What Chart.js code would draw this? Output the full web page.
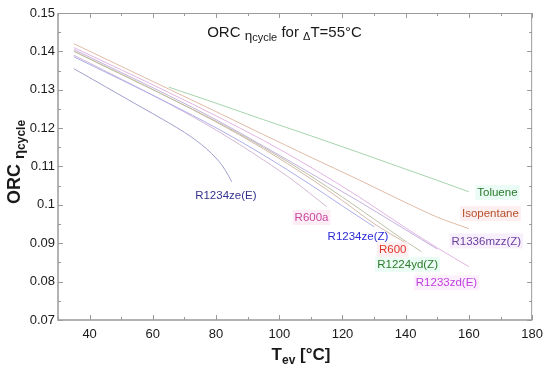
<!DOCTYPE html>
<html>
<head>
<meta charset="utf-8">
<script src="https://cdn.jsdelivr.net/npm/chart.js@4/dist/chart.umd.min.js"></script>
<style>
  html, body { margin: 0; padding: 0; background: #fff; }
  #wrap { width: 550px; height: 374px; }
</style>
</head>
<body>
<div id="wrap"><canvas id="c" width="550" height="374"></canvas></div>
<script>
// axis ticks
const xTicks = [40, 60, 80, 100, 120, 140, 160, 180];
const yTicks = [0.07, 0.08, 0.09, 0.1, 0.11, 0.12, 0.13, 0.14, 0.15];

// evaporation temperature [°C] and cycle efficiency per fluid
const tToluene = [65, 80, 95, 110, 125, 140, 150, 160];
const etaToluene = [0.1307, 0.1265, 0.1222, 0.1180, 0.1137, 0.1093, 0.1064, 0.1034];

const tIsopentane = [35, 50, 65, 80, 95, 110, 125, 140, 150, 160];
const etaIsopentane = [0.1420, 0.1361, 0.1302, 0.1243, 0.1183, 0.1124, 0.1066, 0.1006, 0.0968, 0.0938];

const tR1233zdE = [35, 50, 65, 80, 95, 110, 125, 140, 150, 160];
const etaR1233zdE = [0.1410, 0.1352, 0.1293, 0.1232, 0.1168, 0.1098, 0.1022, 0.0940, 0.0888, 0.0839];

const tR1336mzzZ = [35, 50, 65, 80, 95, 110, 125, 140, 145, 150];
const etaR1336mzzZ = [0.1405, 0.1345, 0.1285, 0.1222, 0.1153, 0.1082, 0.1010, 0.0935, 0.0910, 0.0885];

const tR1224ydZ = [35, 50, 65, 80, 95, 110, 120, 130, 140, 145];
const etaR1224ydZ = [0.1400, 0.1340, 0.1280, 0.1218, 0.1150, 0.1075, 0.1020, 0.0963, 0.0905, 0.0878];

const tR600 = [35, 50, 65, 80, 95, 110, 120, 130, 140];
const etaR600 = [0.1401, 0.1341, 0.1280, 0.1216, 0.1146, 0.1068, 0.1011, 0.0951, 0.0901];

const tR1234zeZ = [35, 50, 65, 80, 95, 110, 120, 130];
const etaR1234zeZ = [0.1386, 0.1326, 0.1265, 0.1201, 0.1130, 0.1052, 0.0997, 0.0943];

const tR600a = [35, 50, 65, 80, 95, 105, 115];
const etaR600a = [0.1390, 0.1328, 0.1264, 0.1195, 0.1117, 0.1060, 0.0995];

const tR1234zeE = [35, 45, 55, 65, 70, 74, 77, 80, 82, 84, 85];
const etaR1234zeE = [0.1355, 0.1308, 0.1261, 0.1214, 0.1189, 0.1166, 0.1146, 0.1122, 0.1102, 0.1075, 0.1060];

// label anchors (data units)
const labelNames = ['Toluene', 'Isopentane', 'R1336mzz(Z)', 'R1233zd(E)', 'R1224yd(Z)', 'R600', 'R1234ze(Z)', 'R600a', 'R1234ze(E)'];
const labelX = [169.0, 166.8, 165.5, 152.9, 140.6, 135.9, 124.9, 110.2, 83.1];
const labelY = [0.1032, 0.0977, 0.0906, 0.0797, 0.0845, 0.0883, 0.0919, 0.0967, 0.1026];
const labelColors = ['#2a7a2a', '#b4502a', '#6b3f9e', '#c03ee0', '#2d7a2d', '#e0352a', '#2a2ad6', '#c8489e', '#33338f'];
const labelBg = ['#eafcf5', '#fdeef0', '#f7effc', '#fcf0fc', '#eafcf3', '#fdf0f2', null, '#fdeef6', null];

const series = [
  ['Toluene', tToluene, etaToluene, '#a6d4ae'],
  ['Isopentane', tIsopentane, etaIsopentane, '#e0bba5'],
  ['R1233zd(E)', tR1233zdE, etaR1233zdE, '#e2b5e3'],
  ['R1336mzz(Z)', tR1336mzzZ, etaR1336mzzZ, '#c4b2e0'],
  ['R1224yd(Z)', tR1224ydZ, etaR1224ydZ, '#bcc1a5'],
  ['R600', tR600, etaR600, '#d4b8a8'],
  ['R1234ze(Z)', tR1234zeZ, etaR1234zeZ, '#aeaeec'],
  ['R600a', tR600a, etaR600a, '#d4b8d4'],
  ['R1234ze(E)', tR1234zeE, etaR1234zeE, '#a0a0d0']
];

const FONT = 'Arial, "Liberation Sans", sans-serif';

// text runs: [text, size, weight, dy]
function runsWidth(ctx, runs) {
  let w = 0;
  for (const r of runs) {
    ctx.font = `${r[2]} ${r[1]}px ${FONT}`;
    w += ctx.measureText(r[0]).width;
  }
  return w;
}
function drawRuns(ctx, runs, x, y) {
  for (const r of runs) {
    ctx.font = `${r[2]} ${r[1]}px ${FONT}`;
    ctx.fillText(r[0], x, y + r[3]);
    x += ctx.measureText(r[0]).width;
  }
}

const decor = {
  id: 'decor',
  afterDraw(chart) {
    const ctx = chart.ctx;
    const a = chart.chartArea;
    const xs = chart.scales.x, ys = chart.scales.y;
    ctx.save();

    // frame
    ctx.strokeStyle = '#9a9a9a';
    ctx.lineWidth = 1;
    ctx.beginPath();
    ctx.moveTo(a.left, a.top + 0.5); ctx.lineTo(a.right, a.top + 0.5);
    ctx.moveTo(a.right - 0.5, a.top); ctx.lineTo(a.right - 0.5, a.bottom);
    ctx.stroke();
    ctx.lineWidth = 1.5;
    ctx.beginPath();
    ctx.moveTo(a.left, a.top); ctx.lineTo(a.left, a.bottom);
    ctx.lineTo(a.right, a.bottom);
    ctx.stroke();

    // inward ticks
    ctx.lineWidth = 1;
    ctx.beginPath();
    for (let v = 30; v <= 180; v += 10) {
      const px = Math.round(xs.getPixelForValue(v)) + 0.5;
      const len = v % 20 === 0 ? 5 : 3;
      ctx.moveTo(px, a.bottom); ctx.lineTo(px, a.bottom - len);
      ctx.moveTo(px, a.top); ctx.lineTo(px, a.top + len);
    }
    for (let i = 0; i <= 16; i++) {
      const v = 0.07 + i * 0.005;
      const py = Math.round(ys.getPixelForValue(v)) + 0.5;
      const len = i % 2 === 0 ? 5 : 3;
      ctx.moveTo(a.left, py); ctx.lineTo(a.left + len, py);
      ctx.moveTo(a.right, py); ctx.lineTo(a.right - len, py);
    }
    ctx.stroke();

    ctx.fillStyle = '#1a1a1a';
    ctx.textBaseline = 'alphabetic';
    ctx.textAlign = 'left';

    // title inside plot
    const tRuns = [['ORC ', 15, 'normal', 0], ['\u03b7', 13.5, 'normal', 3], ['cycle', 11, 'normal', 4],
                   [' for ', 15, 'normal', 0], ['\u0394', 11, 'normal', 3], ['T=55\u00b0C', 15, 'normal', 0]];
    const tw = runsWidth(ctx, tRuns);
    drawRuns(ctx, tRuns, 284.5 - tw / 2, 37);

    // x axis title
    const xRuns = [['T', 17, 'bold', 0], ['ev', 12, 'bold', 4], [' [\u00b0C]', 17, 'bold', 0]];
    const xw = runsWidth(ctx, xRuns);
    drawRuns(ctx, xRuns, 301 - xw / 2, 360);

    // y axis title
    const yRuns = [['ORC ', 18, 'bold', 0], ['\u03b7', 15, 'bold', 4], ['cycle', 12, 'bold', 5]];
    const yw = runsWidth(ctx, yRuns);
    ctx.save();
    ctx.translate(20, 162);
    ctx.rotate(-Math.PI / 2);
    drawRuns(ctx, yRuns, -yw / 2, 0);
    ctx.restore();

    // fluid labels
    ctx.font = `11.5px ${FONT}`;
    ctx.textAlign = 'center';
    ctx.textBaseline = 'middle';
    labelNames.forEach((name, i) => {
      const px = xs.getPixelForValue(labelX[i]);
      const py = ys.getPixelForValue(labelY[i]);
      const w = ctx.measureText(name).width;
      if (labelBg[i]) {
        ctx.fillStyle = labelBg[i];
        ctx.fillRect(px - w / 2 - 2, py - 7.5, w + 4, 15);
      }
      ctx.fillStyle = labelColors[i];
      ctx.fillText(name, px, py + 0.5);
    });
    ctx.restore();
  }
};

new Chart(document.getElementById('c'), {
  type: 'line',
  data: {
    datasets: series.map(s => ({
      label: s[0],
      data: s[1].map((t, i) => ({ x: t, y: s[2][i] })),
      borderColor: s[3],
      borderWidth: 1,
      pointRadius: 0,
      fill: false,
      cubicInterpolationMode: 'monotone'
    }))
  },
  options: {
    responsive: false,
    animation: false,
    events: [],
    layout: { padding: { top: 13, right: 15.5, left: 0, bottom: 0 } },
    plugins: { legend: { display: false }, tooltip: { enabled: false }, title: { display: false } },
    scales: {
      x: {
        type: 'linear',
        min: 30, max: 180,
        afterBuildTicks: sc => { sc.ticks = xTicks.map(v => ({ value: v })); },
        afterFit: sc => { sc.height = 54; },
        grid: { display: false, drawTicks: false },
        border: { display: false },
        ticks: { color: '#1a1a1a', padding: 7, font: { family: FONT, size: 13 }, maxRotation: 0 }
      },
      y: {
        type: 'linear',
        min: 0.07, max: 0.15,
        afterBuildTicks: sc => { sc.ticks = yTicks.map(v => ({ value: v })); },
        afterFit: sc => { sc.width = 58; },
        grid: { display: false, drawTicks: false },
        border: { display: false },
        ticks: {
          color: '#1a1a1a', padding: 3, font: { family: FONT, size: 13 },
          callback: v => String(Math.round(v * 100) / 100)
        }
      }
    }
  },
  plugins: [decor]
});
</script>
</body>
</html>
